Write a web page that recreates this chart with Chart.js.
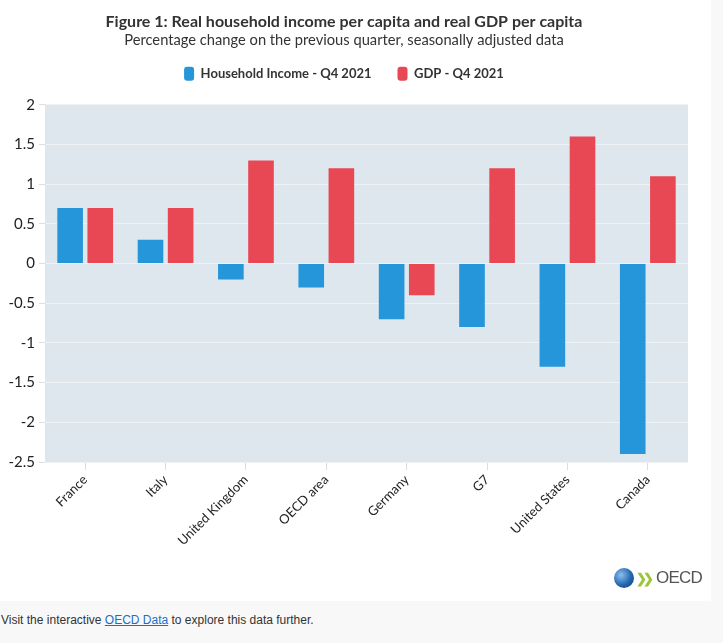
<!DOCTYPE html>
<html><head><meta charset="utf-8">
<script src="https://cdn.jsdelivr.net/npm/chart.js@4/dist/chart.umd.min.js"></script>
<style>
html,body{margin:0;padding:0;background:#f8f8f8;width:723px;height:643px;overflow:hidden;}
#wrap{position:absolute;left:0;top:0;width:711px;height:601px;background:#fff;}
#c{position:absolute;left:0;top:0;}
#logo{position:absolute;left:614px;top:567px;height:22px;display:flex;align-items:center;font-family:"Liberation Sans",Arial,sans-serif;}
#globe{width:20px;height:20px;border-radius:50%;background:radial-gradient(circle at 35% 35%,#8cc0ec,#2466b0 55%,#0c3a70);}
#chev{color:#9cc63a;font-weight:bold;font-size:13px;margin-left:2px;letter-spacing:-4px;}
#otext{color:#555;font-size:17px;margin-left:6px;letter-spacing:-0.8px;}
#foot{position:absolute;left:1px;top:613px;font-family:"Liberation Sans",Arial,sans-serif;font-size:12px;color:#333;}
#foot a{color:#1a6fc7;text-decoration:underline;}
</style></head>
<body>
<div id="wrap"><canvas id="c" width="711" height="601"></canvas>
<div id="logo"><div id="globe"></div><span id="chev">❯❯</span><span id="otext">OECD</span></div>
</div>
<div id="foot">Visit the interactive <a href="#">OECD Data</a> to explore this data further.</div>
<script>
const categories = ["France","Italy","United Kingdom","OECD area","Germany","G7","United States","Canada"];
const householdIncome = [0.7, 0.3, -0.2, -0.3, -0.7, -0.8, -1.3, -2.4];
const gdp = [0.7, 0.7, 1.3, 1.2, -0.4, 1.2, 1.6, 1.1];
const seriesNames = ["Household Income - Q4 2021", "GDP - Q4 2021"];
const titleText = "Figure 1: Real household income per capita and real GDP per capita";
const subtitleText = "Percentage change on the previous quarter, seasonally adjusted data";

const FONT = "Lato, 'Source Sans Pro', sans-serif";
const bgPlugin = {
  id:'bg',
  afterInit(chart){
    const lg = chart.legend;
    if (lg) {
      const orig = lg.fit.bind(lg);
      lg.fit = function(){ orig(); this.height += 14; };
    }
  },
  beforeDraw(chart){
    const {ctx, chartArea:a} = chart;
    ctx.save(); ctx.fillStyle = '#dee7ee';
    ctx.fillRect(a.left, a.top, a.right-a.left, a.bottom-a.top);
    ctx.restore();
  }
};
new Chart(document.getElementById('c'), {
  type:'bar',
  data:{
    labels: categories,
    datasets:[
      {label: seriesNames[0], data: householdIncome, backgroundColor:'#2496d9', borderWidth:0},
      {label: seriesNames[1], data: gdp, backgroundColor:'#e84853', borderWidth:0}
    ]
  },
  options:{
    responsive:false, animation:false,
    devicePixelRatio:1,
    layout:{padding:{left:0,right:23,top:10,bottom:0}},
    datasets:{bar:{categoryPercentage:0.75, barPercentage:0.85}},
    plugins:{
      title:{display:true, text:titleText, color:'#333', font:{family:FONT, size:16, weight:'bold'}, padding:{top:2,bottom:0}},
      subtitle:{display:true, text:subtitleText, color:'#333', font:{family:FONT, size:14.7}, padding:{top:0,bottom:-8}},
      legend:{position:'top', labels:{color:'#333', font:{family:FONT, size:13, weight:'bold'}, boxWidth:10, boxHeight:14, useBorderRadius:true, borderRadius:3, padding:26}},
      tooltip:{enabled:false}
    },
    scales:{
      x:{
        offset:true,
        grid:{display:true, drawOnChartArea:false, offset:false, color:'#dddddd', tickLength:8},
        border:{display:false},
        ticks:{color:'#222', font:{family:FONT, size:13}, maxRotation:45, minRotation:45, padding:2},
        afterFit(s){ s.height = 139; }
      },
      y:{
        min:-2.5, max:2,
        ticks:{stepSize:0.5, color:'#222', font:{family:FONT, size:15}, padding:4, callback:(v)=>String(v)},
        grid:{color:'#eef2f5', tickColor:'#dddddd', tickLength:6},
        border:{display:false},
        afterFit(s){ s.width = 45; }
      }
    }
  },
  plugins:[bgPlugin]
});
</script>
</body></html>
